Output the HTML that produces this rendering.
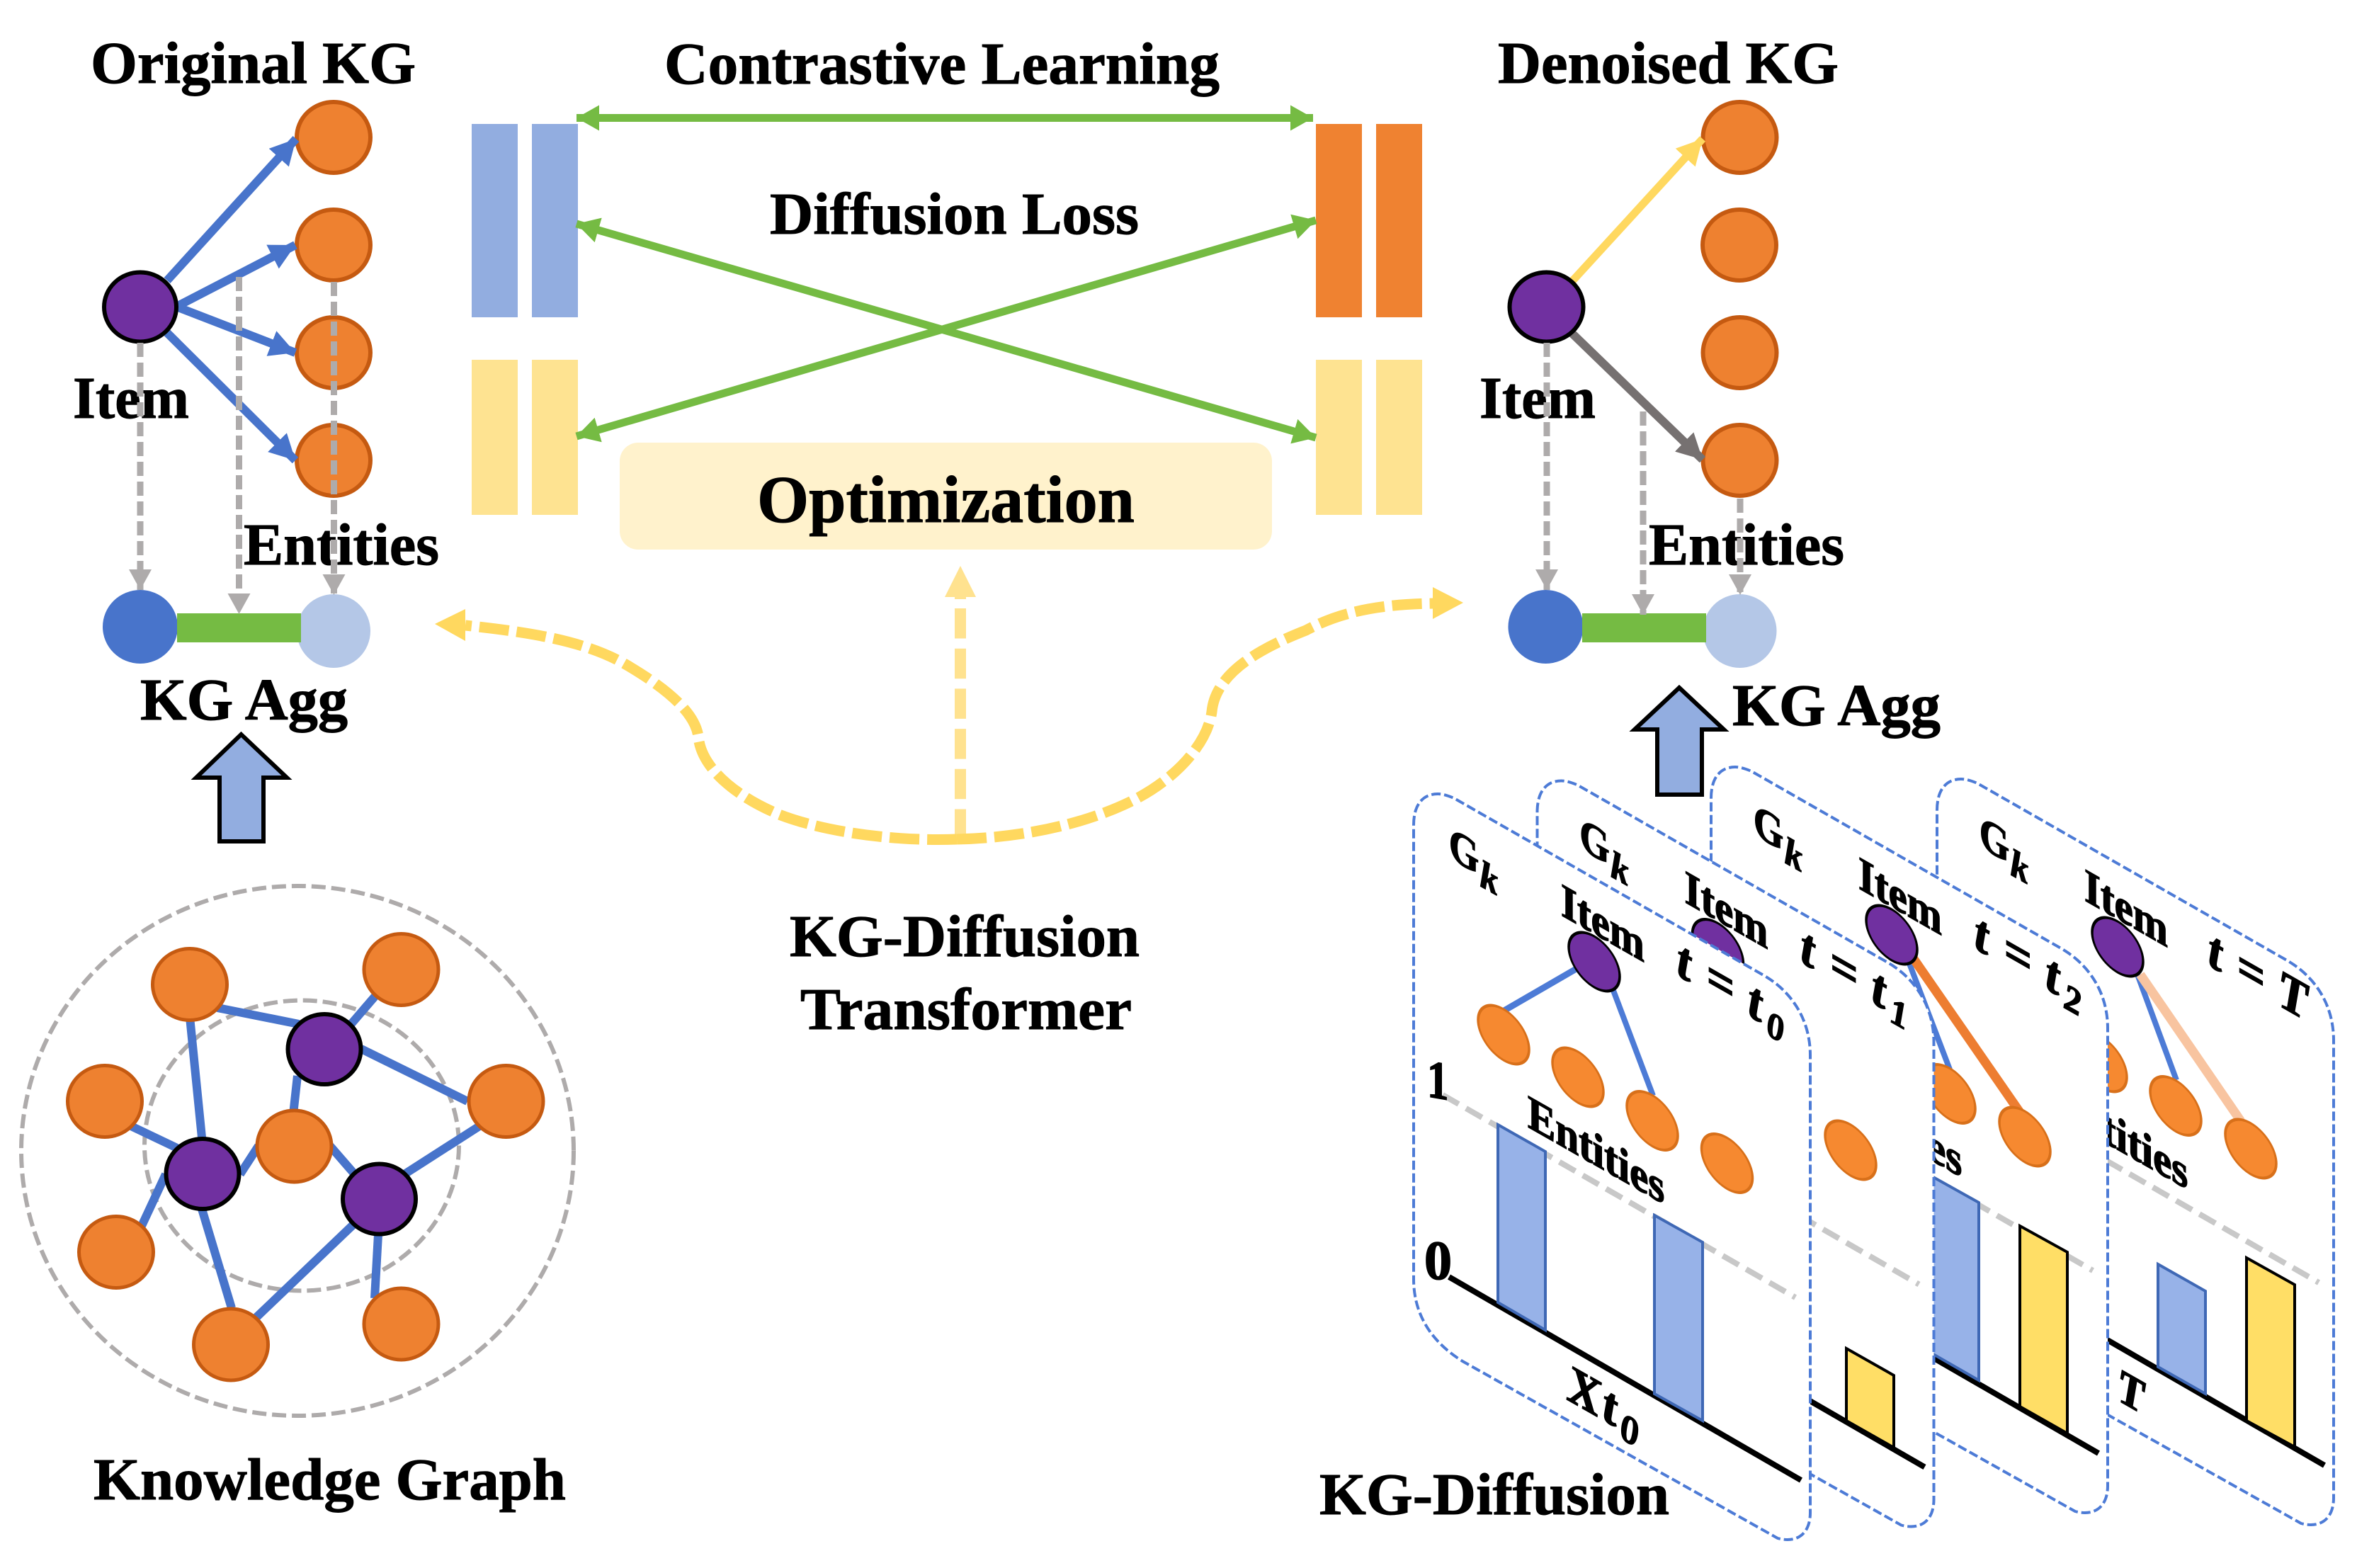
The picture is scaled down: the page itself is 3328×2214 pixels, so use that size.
<!DOCTYPE html>
<html><head><meta charset="utf-8"><style>
html,body{margin:0;padding:0;background:#fff}
svg{display:block}
text{font-family:"Liberation Serif",serif;font-weight:bold;fill:#000;stroke:#000;stroke-width:1}
.i{font-style:italic}
.c{stroke-width:1.6}
</style></head><body>
<svg width="3328" height="2214" viewBox="0 0 3328 2214" xmlns="http://www.w3.org/2000/svg">
<defs>
<marker id="mb" markerUnits="userSpaceOnUse" markerWidth="38" markerHeight="38" refX="36" refY="19" orient="auto"><path d="M0,0L36,19L0,38Z" fill="#4874CB"/></marker>
<marker id="my" markerUnits="userSpaceOnUse" markerWidth="38" markerHeight="38" refX="36" refY="19" orient="auto"><path d="M0,0L36,19L0,38Z" fill="#FFD85F"/></marker>
<marker id="mk" markerUnits="userSpaceOnUse" markerWidth="38" markerHeight="38" refX="36" refY="19" orient="auto"><path d="M0,0L36,19L0,38Z" fill="#767171"/></marker>
<marker id="mg" markerUnits="userSpaceOnUse" markerWidth="32" markerHeight="32" refX="29" refY="16" orient="auto"><path d="M0,0L29,16L0,32Z" fill="#AEABAB"/></marker>
<marker id="mv" markerUnits="userSpaceOnUse" markerWidth="34" markerHeight="36" refX="32" refY="18" orient="auto-start-reverse"><path d="M0,0L32,18L0,36Z" fill="#75BB43"/></marker>
</defs>

<!-- Text behind dashes -->
<text x="128" y="117" font-size="84" textLength="459" lengthAdjust="spacingAndGlyphs">Original KG</text>
<text x="103" y="590" font-size="84" textLength="164" lengthAdjust="spacingAndGlyphs">Item</text>
<text x="344" y="797" font-size="84" textLength="276" lengthAdjust="spacingAndGlyphs">Entities</text>
<text x="198" y="1016" font-size="84" textLength="293" lengthAdjust="spacingAndGlyphs">KG Agg</text>
<text x="2115" y="117" font-size="84" textLength="481" lengthAdjust="spacingAndGlyphs">Denoised KG</text>
<text x="2089" y="590" font-size="84" textLength="164" lengthAdjust="spacingAndGlyphs">Item</text>
<text x="2328" y="797" font-size="84" textLength="276" lengthAdjust="spacingAndGlyphs">Entities</text>
<text x="2446" y="1024" font-size="84" textLength="294" lengthAdjust="spacingAndGlyphs">KG Agg</text>

<!-- Original KG -->
<g fill="#EE8130" stroke="#C55A11" stroke-width="6">
<ellipse cx="471" cy="194" rx="52" ry="50"/><ellipse cx="471" cy="346" rx="52" ry="50"/><ellipse cx="471" cy="498" rx="52" ry="50"/><ellipse cx="471" cy="650" rx="52" ry="50"/>
</g>
<g stroke="#4874CB" stroke-width="12" fill="none">
<line x1="236" y1="396" x2="418" y2="196" marker-end="url(#mb)"/>
<line x1="249" y1="433" x2="417" y2="346" marker-end="url(#mb)"/>
<line x1="249" y1="433" x2="417" y2="498" marker-end="url(#mb)"/>
<line x1="236" y1="470" x2="417" y2="650" marker-end="url(#mb)"/>
</g>
<ellipse cx="198" cy="433.5" rx="51" ry="49" fill="#7030A0" stroke="#000" stroke-width="6"/>
<ellipse cx="198" cy="885" rx="53" ry="52" fill="#4874CB"/>
<ellipse cx="471" cy="891" rx="52" ry="52" fill="#B4C7E7"/>
<rect x="250" y="866" width="175" height="41" fill="#75BB43"/>
<g stroke="#AEABAB" stroke-width="9" stroke-dasharray="20 8" fill="none">
<line x1="198" y1="484" x2="198" y2="833" marker-end="url(#mg)"/>
<line x1="337.5" y1="391" x2="337.5" y2="867" marker-end="url(#mg)"/>
<line x1="471.5" y1="398" x2="471.5" y2="840" marker-end="url(#mg)"/>
</g>

<!-- Denoised KG -->
<g fill="#EE8130" stroke="#C55A11" stroke-width="6">
<ellipse cx="2456.5" cy="194" rx="52" ry="50"/><ellipse cx="2456" cy="346" rx="52" ry="50"/><ellipse cx="2456.5" cy="498" rx="52" ry="50"/><ellipse cx="2456.5" cy="650" rx="52" ry="50"/>
</g>
<line x1="2219" y1="398" x2="2404" y2="196" stroke="#FFD85F" stroke-width="11" marker-end="url(#my)"/>
<line x1="2219" y1="470" x2="2404" y2="649" stroke="#767171" stroke-width="12" marker-end="url(#mk)"/>
<ellipse cx="2183.5" cy="433.5" rx="52" ry="49" fill="#7030A0" stroke="#000" stroke-width="6"/>
<ellipse cx="2182.5" cy="885" rx="53" ry="52" fill="#4874CB"/>
<ellipse cx="2456.5" cy="891" rx="52" ry="52" fill="#B4C7E7"/>
<rect x="2234" y="866" width="175" height="41" fill="#75BB43"/>
<g stroke="#AEABAB" stroke-width="9" stroke-dasharray="20 8" fill="none">
<line x1="2184" y1="484" x2="2184" y2="833" marker-end="url(#mg)"/>
<line x1="2320" y1="581" x2="2320" y2="868" marker-end="url(#mg)"/>
<line x1="2457" y1="704" x2="2457" y2="840" marker-end="url(#mg)"/>
</g>

<!-- center bars -->
<g fill="#92ADE0"><rect x="666" y="175" width="65" height="273"/><rect x="751" y="175" width="65" height="273"/></g>
<g fill="#FEE391"><rect x="666" y="508" width="65" height="219"/><rect x="751" y="508" width="65" height="219"/><rect x="1858" y="508" width="65" height="219"/><rect x="1943" y="508" width="65" height="219"/></g>
<g fill="#EF8231"><rect x="1858" y="175" width="65" height="273"/><rect x="1943" y="175" width="65" height="273"/></g>
<rect x="875" y="625" width="921" height="151" rx="26" fill="#FFF2CC"/>
<g stroke="#75BB43" stroke-width="11" fill="none">
<line x1="814" y1="166.5" x2="1854" y2="166.5" marker-start="url(#mv)" marker-end="url(#mv)"/>
<line x1="814" y1="316" x2="1858" y2="618" marker-start="url(#mv)" marker-end="url(#mv)"/>
<line x1="814" y1="616" x2="1858" y2="311" marker-start="url(#mv)" marker-end="url(#mv)"/>
</g>
<text x="938" y="118" font-size="84" textLength="784" lengthAdjust="spacingAndGlyphs">Contrastive Learning</text>
<text x="1087" y="330" font-size="84" textLength="521" lengthAdjust="spacingAndGlyphs">Diffusion Loss</text>
<text x="1069" y="737" font-size="94" textLength="533" lengthAdjust="spacingAndGlyphs">Optimization</text>
<text x="1115" y="1350" font-size="84" textLength="494" lengthAdjust="spacingAndGlyphs">KG-Diffusion</text>
<text x="1130" y="1453" font-size="84" textLength="468" lengthAdjust="spacingAndGlyphs">Transformer</text>

<!-- dashed yellow curves -->
<path d="M1356,859L1356,1185" stroke="#FFE28F" stroke-width="16" stroke-dasharray="42.5 14.2" fill="none"/>
<path d="M1356,843L1356,846" stroke="#FFE28F" stroke-width="16" fill="none"/>
<polygon points="1356,799 1334,843 1378,843" fill="#FFE28F"/>
<path d="M1351,1185C1270,1188 1170,1177 1100,1150C1040,1125 990,1085 986,1040C982,1010 950,978 890,942C830,905 750,893 657,883" stroke="#FFD85F" stroke-width="15" stroke-dasharray="42 11" fill="none"/>
<polygon points="614,881 657,860 657,905" fill="#FFD85F"/>
<path d="M1351,1185C1440,1183 1530,1165 1600,1130C1660,1100 1705,1050 1711,1005C1716,950 1780,915 1844,890C1900,860 1960,853 2025,852" stroke="#FFD85F" stroke-width="15" stroke-dasharray="42 11" fill="none"/>
<polygon points="2066,851 2023,829 2023,874" fill="#FFD85F"/>

<!-- up arrows -->
<polygon points="340.5,1037 405,1098 372,1098 372,1188 310,1188 310,1098 277,1098" fill="#92ADE0" stroke="#000" stroke-width="6"/>
<polygon points="2371,971 2434,1030 2403,1030 2403,1122 2340,1122 2340,1030 2308,1030" fill="#92ADE0" stroke="#000" stroke-width="6"/>

<!-- Knowledge graph -->
<g fill="none" stroke="#AEABAB" stroke-width="6" stroke-dasharray="20 8">
<ellipse cx="420" cy="1625" rx="390" ry="374"/>
<ellipse cx="426" cy="1617.5" rx="222" ry="205"/>
</g>
<g stroke="#4874CB" stroke-width="12">
<line x1="307" y1="1423" x2="422" y2="1446"/>
<line x1="268.5" y1="1441" x2="285" y2="1606"/>
<line x1="531" y1="1405" x2="494" y2="1448"/>
<line x1="510" y1="1481" x2="660" y2="1555"/>
<line x1="420" y1="1519" x2="414.5" y2="1569"/>
<line x1="185" y1="1590" x2="250" y2="1621"/>
<line x1="339" y1="1658" x2="365" y2="1618"/>
<line x1="234" y1="1658" x2="200" y2="1731"/>
<line x1="285" y1="1707" x2="327" y2="1847"/>
<line x1="466" y1="1618" x2="499" y2="1656"/>
<line x1="571" y1="1658" x2="677" y2="1590"/>
<line x1="499" y1="1729" x2="362" y2="1860"/>
<line x1="534" y1="1743" x2="529" y2="1833"/>
</g>
<g fill="#EE8130" stroke="#C55A11" stroke-width="5">
<ellipse cx="268" cy="1390" rx="52.5" ry="50.5"/><ellipse cx="566.5" cy="1369" rx="52.5" ry="50.5"/>
<ellipse cx="148" cy="1555" rx="52.5" ry="50.5"/><ellipse cx="714.5" cy="1555" rx="52.5" ry="50.5"/>
<ellipse cx="415.5" cy="1618.5" rx="52.5" ry="50.5"/><ellipse cx="164" cy="1768" rx="52.5" ry="50.5"/>
<ellipse cx="326" cy="1898.5" rx="52.5" ry="50.5"/><ellipse cx="566.5" cy="1869.5" rx="52.5" ry="50.5"/>
</g>
<g fill="#7030A0" stroke="#000" stroke-width="6">
<ellipse cx="458" cy="1481.5" rx="51.5" ry="49.5"/><ellipse cx="286" cy="1657.5" rx="51.5" ry="49.5"/><ellipse cx="535.5" cy="1693" rx="51.5" ry="49.5"/>
</g>
<text x="132" y="2117" font-size="84" textLength="667" lengthAdjust="spacingAndGlyphs">Knowledge Graph</text>

<!-- CARD 4 -->
<g transform="translate(739,-21)">
<path d="M1996,1165C1996,1135 2010,1121 2030,1121C2038,1121 2046,1124 2053,1127L2490,1377C2530,1400 2556,1440 2556,1490L2556,2136C2556,2163 2540,2180 2510,2172L2065,1922C2025,1897 1996,1860 1996,1806Z" fill="#fff" stroke="#4D7BD6" stroke-width="4" stroke-dasharray="13 5"/>
<line x1="2046" y1="1803" x2="2543" y2="2090" stroke="#000" stroke-width="8"/>
<line x1="2037" y1="1546" x2="2535" y2="1832" stroke="#C8C8C8" stroke-width="8" stroke-dasharray="26 12"/>
<line x1="2198" y1="1383" x2="2120" y2="1420" stroke="#4D7BD6" stroke-width="9"/>
<line x1="2279" y1="1397" x2="2334" y2="1546" stroke="#4D7BD6" stroke-width="8"/>
<line x1="2283" y1="1397" x2="2425" y2="1604" stroke="#F8C4A0" stroke-width="13"/>
<g fill="#F68930" stroke="#D8701A" stroke-width="3.5">
<circle r="36" transform="matrix(1,.57,0,1,2228,1521)"/><circle r="36" transform="matrix(1,.57,0,1,2333,1582.5)"/><circle r="36" transform="matrix(1,.57,0,1,2439,1643)"/>
</g>
<circle r="36" fill="#7030A0" stroke="#000" stroke-width="3.5" transform="matrix(1,.57,0,1,2251,1358)"/>
<text class="c" font-size="66" transform="matrix(.82,.47,0,1,2056,1216)">G</text>
<text class="i c" font-size="56" transform="matrix(.88,.5,0,1,2100,1256)">k</text>
<text class="c" font-size="67" transform="matrix(.88,.5,0,1,2204,1292)">Item</text>
<text class="i c" font-size="78" transform="matrix(.88,.5,0,1,2379,1384)">t<tspan x="46">=</tspan><tspan x="112">T</tspan></text>
<text class="c" font-size="67" transform="matrix(.88,.5,0,1,2157,1591)">Entities</text>
<text class="i c" font-size="70" transform="matrix(.88,.5,0,1,2251,1998)">T</text>
</g>
<g stroke="#3F68B5" stroke-width="4" fill="#97B2E8"><polygon points="3047,1785 3114,1823 3114,1968 3047,1930"/></g>
<g stroke="#000" stroke-width="4" fill="#FFDE66"><polygon points="3172,1776 3240,1814 3240,2043 3172,2006"/></g>

<!-- CARD 3 -->
<g transform="translate(420,-38)">
<path d="M1996,1165C1996,1135 2010,1121 2030,1121C2038,1121 2046,1124 2053,1127L2490,1377C2530,1400 2556,1440 2556,1490L2556,2136C2556,2163 2540,2180 2510,2172L2065,1922C2025,1897 1996,1860 1996,1806Z" fill="#fff" stroke="#4D7BD6" stroke-width="4" stroke-dasharray="13 5"/>
<line x1="2046" y1="1803" x2="2543" y2="2090" stroke="#000" stroke-width="8"/>
<line x1="2037" y1="1546" x2="2535" y2="1832" stroke="#C8C8C8" stroke-width="8" stroke-dasharray="26 12"/>
<line x1="2198" y1="1383" x2="2120" y2="1420" stroke="#4D7BD6" stroke-width="9"/>
<line x1="2275" y1="1396" x2="2333" y2="1548" stroke="#4D7BD6" stroke-width="8"/>
<line x1="2280" y1="1389" x2="2433" y2="1610" stroke="#ED7D31" stroke-width="13"/>
<g fill="#F68930" stroke="#D8701A" stroke-width="3.5">
<circle r="36" transform="matrix(1,.57,0,1,2333,1582.5)"/><circle r="36" transform="matrix(1,.57,0,1,2439,1643)"/>
</g>
<circle r="36" fill="#7030A0" stroke="#000" stroke-width="3.5" transform="matrix(1,.57,0,1,2251,1358)"/>
<text class="c" font-size="66" transform="matrix(.82,.47,0,1,2056,1216)">G</text>
<text class="i c" font-size="56" transform="matrix(.88,.5,0,1,2100,1256)">k</text>
<text class="c" font-size="67" transform="matrix(.88,.5,0,1,2204,1292)">Item</text>
<text class="i c" font-size="78" transform="matrix(.88,.5,0,1,2368,1377)">t<tspan x="47">=</tspan><tspan x="114">t</tspan><tspan x="144" dy="12" font-size="54">2</tspan></text>
<text class="c" font-size="67" transform="matrix(.88,.5,0,1,2157,1591)">Entities</text>
</g>
<g stroke="#3F68B5" stroke-width="4" fill="#97B2E8"><polygon points="2726,1660 2794,1698 2794,1949 2726,1910"/></g>
<g stroke="#000" stroke-width="4" fill="#FFDE66"><polygon points="2852,1731 2919,1768 2919,2024 2852,1986"/></g>

<!-- CARD 2 -->
<g transform="translate(174.5,-18.5)">
<path d="M1996,1165C1996,1135 2010,1121 2030,1121C2038,1121 2046,1124 2053,1127L2490,1377C2530,1400 2556,1440 2556,1490L2556,2136C2556,2163 2540,2180 2510,2172L2065,1922C2025,1897 1996,1860 1996,1806Z" fill="#fff" stroke="#4D7BD6" stroke-width="4" stroke-dasharray="13 5"/>
<line x1="2046" y1="1803" x2="2543" y2="2090" stroke="#000" stroke-width="8"/>
<line x1="2037" y1="1546" x2="2535" y2="1832" stroke="#C8C8C8" stroke-width="8" stroke-dasharray="26 12"/>
<g fill="#F68930" stroke="#D8701A" stroke-width="3.5">
<circle r="36" transform="matrix(1,.57,0,1,2438.5,1642.5)"/>
</g>
<circle r="36" fill="#7030A0" stroke="#000" stroke-width="3.5" transform="matrix(1,.57,0,1,2251,1358)"/>
<text class="c" font-size="66" transform="matrix(.82,.47,0,1,2056,1216)">G</text>
<text class="i c" font-size="56" transform="matrix(.88,.5,0,1,2100,1256)">k</text>
<text class="c" font-size="67" transform="matrix(.88,.5,0,1,2204,1292)">Item</text>
<text class="i c" font-size="78" transform="matrix(.88,.5,0,1,2368,1377)">t<tspan x="47">=</tspan><tspan x="114">t</tspan><tspan x="144" dy="12" font-size="54">1</tspan></text>
</g>
<g stroke="#000" stroke-width="4" fill="#FFDE66"><polygon points="2607,1904 2674,1942 2674,2044 2607,2006"/></g>

<!-- CARD 1 -->
<path d="M1996,1165C1996,1135 2010,1121 2030,1121C2038,1121 2046,1124 2053,1127L2490,1377C2530,1400 2556,1440 2556,1490L2556,2136C2556,2163 2540,2180 2510,2172L2065,1922C2025,1897 1996,1860 1996,1806Z" fill="#fff" stroke="#4D7BD6" stroke-width="4" stroke-dasharray="13 5"/>
<line x1="2046" y1="1803" x2="2543" y2="2090" stroke="#000" stroke-width="8"/>
<line x1="2037" y1="1546" x2="2535" y2="1832" stroke="#C8C8C8" stroke-width="8" stroke-dasharray="26 12"/>
<g stroke="#3F68B5" stroke-width="4" fill="#97B2E8">
<polygon points="2115,1588 2182,1626 2182,1878 2115,1839"/>
<polygon points="2336,1716 2404,1754 2404,2006 2336,1968"/>
</g>
<line x1="2122" y1="1428" x2="2229" y2="1366" stroke="#4D7BD6" stroke-width="9"/>
<line x1="2277" y1="1396" x2="2334" y2="1547" stroke="#4D7BD6" stroke-width="8"/>
<g fill="#F68930" stroke="#D8701A" stroke-width="3.5">
<circle r="36" transform="matrix(1,.57,0,1,2123,1461)"/><circle r="36" transform="matrix(1,.57,0,1,2228,1521)"/><circle r="36" transform="matrix(1,.57,0,1,2333,1582.5)"/><circle r="36" transform="matrix(1,.57,0,1,2438.5,1642.5)"/>
</g>
<circle r="36" fill="#7030A0" stroke="#000" stroke-width="3.5" transform="matrix(1,.57,0,1,2251,1358)"/>
<text class="c" font-size="66" transform="matrix(.82,.47,0,1,2046,1211)">G</text>
<text class="i c" font-size="56" transform="matrix(.88,.5,0,1,2090,1251)">k</text>
<text class="c" font-size="67" transform="matrix(.88,.5,0,1,2204,1292)">Item</text>
<text class="i c" font-size="78" transform="matrix(.88,.5,0,1,2368,1377)">t<tspan x="47">=</tspan><tspan x="114">t</tspan><tspan x="144" dy="12" font-size="54">0</tspan></text>
<text class="c" font-size="67" transform="matrix(.88,.5,0,1,2157,1591)">Entities</text>
<text class="c" font-size="76" transform="matrix(.8,.14,0,1,2015,1548)">1</text>
<text class="c" font-size="78" transform="matrix(1,.05,0,1,2011,1805)">0</text>
<text class="i c" font-size="78" transform="matrix(.88,.5,0,1,2214,1977)">X<tspan x="56">t</tspan><tspan x="84" dy="12" font-size="58">0</tspan></text>

<text x="1863" y="2138" font-size="84" textLength="494" lengthAdjust="spacingAndGlyphs">KG-Diffusion</text>
</svg>
</body></html>
